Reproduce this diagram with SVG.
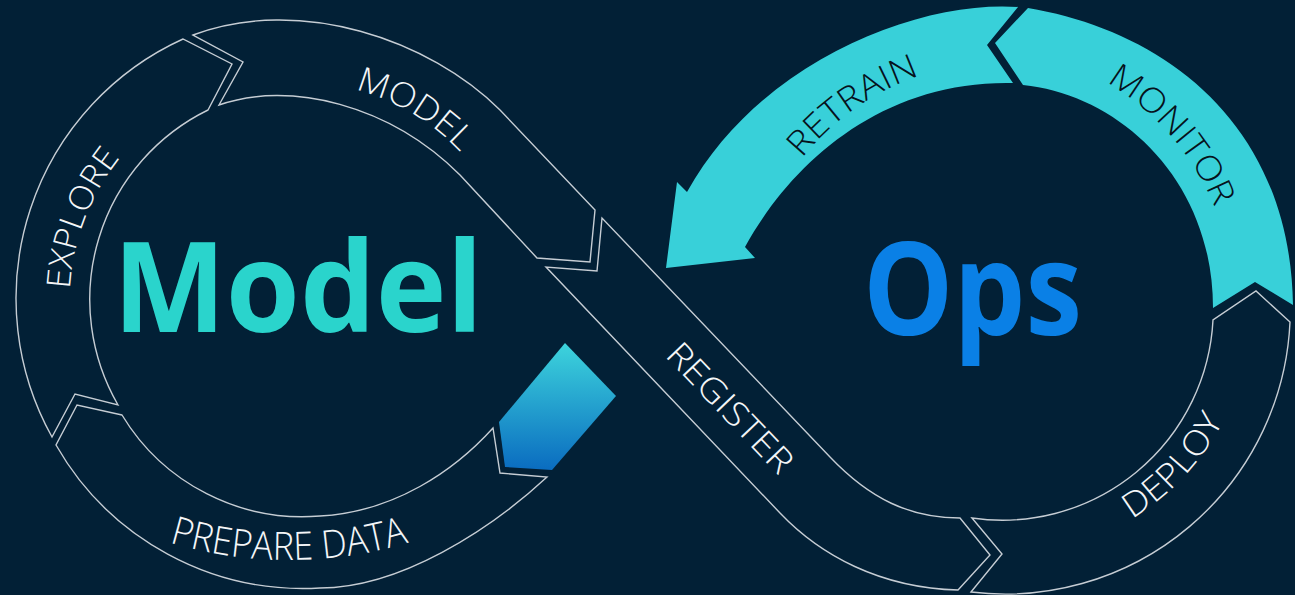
<svg xmlns="http://www.w3.org/2000/svg" xmlns:xlink="http://www.w3.org/1999/xlink" width="1295" height="595" viewBox="0 0 1295 595">
  <style>
    .band { fill: none; stroke: #c6cdd4; stroke-width: 1.4; stroke-linejoin: miter; }
    .cyan { fill: #38d0d9; }
    .lbl { font-family: "Open Sans", "Liberation Sans", sans-serif; font-weight: 300; font-size: 34px; fill: #f4f6f8; }
    .dark { fill: #06121c; }
    .big { font-family: "Open Sans", "Liberation Sans", sans-serif; font-weight: 700; }
  </style>
  <defs>
    <linearGradient id="gData" x1="0" y1="0" x2="0" y2="1">
      <stop offset="0" stop-color="#3dd4dc"/>
      <stop offset="1" stop-color="#0a6cc0"/>
    </linearGradient>
    <path id="pExplore" d="M 109,431 A 231 231 0 0 1 244,78"/>
    <path id="pModel" d="M 263.7,84.8 A 222 222 0 0 1 507.7,230.3"/>
    <path id="pPrepare" d="M 80,504 A 418 418 0 0 0 498,504"/>
    <path id="pRegister" d="M 618.1,307.4 L 825.1,524.6"/>
    <path id="pDeploy" d="M 990,554.7 A 248 248 0 0 0 1249.2,276.8"/>
    <path id="pRetrain" d="M 745.6,302 A 258 258 0 0 1 1065.4,69.7"/>
    <path id="pMonitor" d="M 971.5,47 A 258 258 0 0 1 1230.8,345.4"/>
  </defs>
  <rect x="0" y="0" width="1295" height="595" fill="#022036"/>

  <g id="explore">
    <path class="band" d="M 52,437 L 75,394 L 118,405 A 211 211 0 0 1 208,110 L 232,64 L 183,39 A 285 285 0 0 0 52,437 Z"/>
    <text class="lbl" style="font-size:33px"><textPath href="#pExplore" xlink:href="#pExplore" startOffset="50%" text-anchor="middle" textLength="143" lengthAdjust="spacingAndGlyphs">EXPLORE</textPath></text>
  </g>

  <g id="model-step">
    <path class="band" d="M 219,105 L 243,62 L 193,35 C 300,-5 430,40 500,110 L 595,210 L 590,262 L 537,258 L 460,175 C 390,105 290,80 219,105 Z"/>
    <text class="lbl"><textPath href="#pModel" xlink:href="#pModel" startOffset="50%" text-anchor="middle" textLength="124" lengthAdjust="spacingAndGlyphs">MODEL</textPath></text>
  </g>

  <g id="prepare-data">
    <path class="band" d="M 122,415 L 77,405 L 56,445 A 285 285 0 0 0 320,588 C 400,588 490,530 547,477 L 500,473 L 493,428 C 455,470 395,512 320,516 A 211 211 0 0 1 122,415 Z"/>
    <text class="lbl" style="font-size:39px"><textPath href="#pPrepare" xlink:href="#pPrepare" startOffset="50%" text-anchor="middle" textLength="243" lengthAdjust="spacingAndGlyphs">PREPARE DATA</textPath></text>
  </g>

  <g id="data-input">
    <path d="M 565,343 L 616,396 L 552,470 L 505,467 L 499,422 Z" fill="url(#gData)"/>
  </g>

  <g id="register">
    <path class="band" d="M 602,218 L 597,271 L 546,267 L 780,513 C 820,555 880,588 958,590 L 990,555 L 960,518 C 910,518 870,499 830,457 Z"/>
    <text class="lbl"><textPath href="#pRegister" xlink:href="#pRegister" startOffset="50%" text-anchor="middle" textLength="166" lengthAdjust="spacingAndGlyphs">REGISTER</textPath></text>
  </g>

  <g id="deploy">
    <path class="band" d="M 972,518 L 1002,554 L 971,592 A 285 285 0 0 0 1290,322 L 1256,291 L 1213,320 A 211 211 0 0 1 972,518 Z"/>
    <text class="lbl"><textPath href="#pDeploy" xlink:href="#pDeploy" startOffset="50%" text-anchor="middle" textLength="136" lengthAdjust="spacingAndGlyphs">DEPLOY</textPath></text>
  </g>

  <g id="monitor">
    <path class="cyan" d="M 995,43 L 1028,8 C 1160,30 1290,120 1293,305 L 1255,282 L 1213,308 C 1213,180 1120,95 1023,85 Z"/>
    <text class="lbl dark"><textPath href="#pMonitor" xlink:href="#pMonitor" startOffset="50%" text-anchor="middle" textLength="168" lengthAdjust="spacingAndGlyphs">MONITOR</textPath></text>
  </g>

  <g id="retrain">
    <path class="cyan" d="M 1018,7 C 920,0 760,60 687,192 L 677,182 L 666,268 L 755,258 L 745,247 C 790,165 880,80 1013,83 L 987,45 Z"/>
    <text class="lbl dark"><textPath href="#pRetrain" xlink:href="#pRetrain" startOffset="51%" text-anchor="middle" textLength="146" lengthAdjust="spacingAndGlyphs">RETRAIN</textPath></text>
  </g>

  <g id="title-model">
    <text class="big" x="113" y="332" font-size="126" fill="#2ad4cc" textLength="370" lengthAdjust="spacingAndGlyphs">Model</text>
  </g>
  <g id="title-ops">
    <text class="big" x="863" y="335" font-size="130" fill="#0a80e6" textLength="219" lengthAdjust="spacingAndGlyphs">Ops</text>
  </g>
</svg>
